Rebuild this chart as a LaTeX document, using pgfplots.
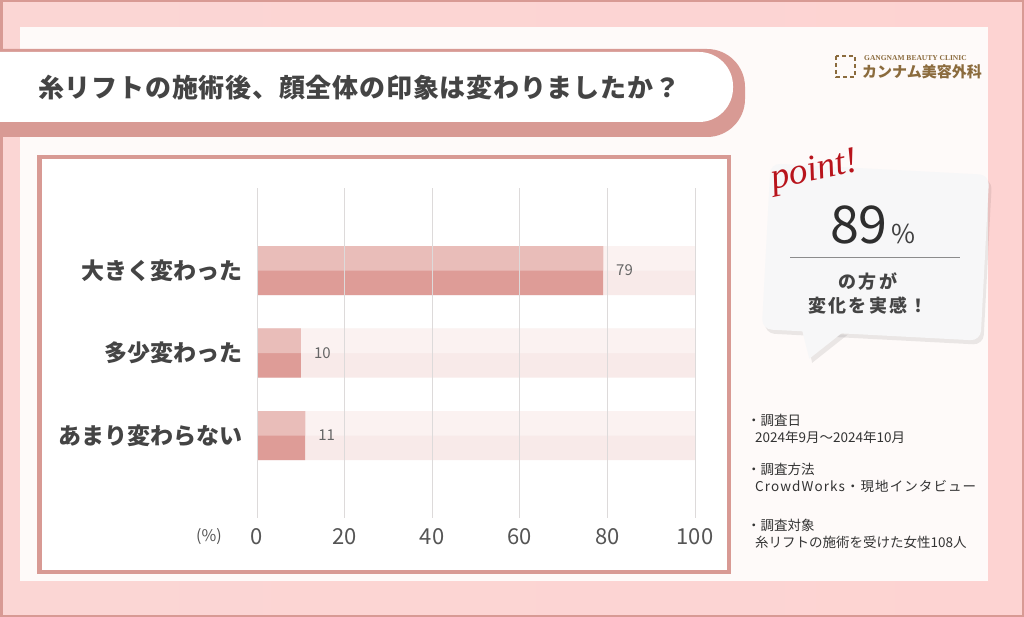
\documentclass[border=0pt]{standalone}
\usepackage{pgfplots}
\pgfplotsset{compat=1.18}
\usepackage{fontspec}
\setmainfont{Noto Sans CJK JP}
\newfontfamily\jp{Noto Sans CJK JP}
\newfontfamily\serif{Liberation Serif}

\definecolor{framec}{HTML}{D89A94}
\definecolor{bgpink}{HTML}{FBD6D4}
\definecolor{card}{HTML}{FEFAF9}
\definecolor{barhi}{HTML}{E9BDB9}
\definecolor{barlo}{HTML}{DE9C97}
\definecolor{trkhi}{HTML}{FBF2F1}
\definecolor{trklo}{HTML}{F8EAE9}
\definecolor{gridc}{HTML}{DDDADA}
\definecolor{txt}{HTML}{444444}
\definecolor{tickc}{HTML}{555555}
\definecolor{valc}{HTML}{666666}
\definecolor{gold}{HTML}{8B6B3D}
\definecolor{pointred}{HTML}{B8141C}
\definecolor{bubble}{HTML}{F7F7F8}

\begin{document}
\begin{tikzpicture}[x=1pt,y=-1pt]
\useasboundingbox (0,0) rectangle (1024,617);
% background and card
\fill[left color=bgpink, right color=bgpink!85!red!60!white] (0,0) rectangle (1024,617);
\draw[framec, line width=2.5pt] (1.25,1.25) rectangle (1022.75,615.75);
\fill[card] (20,27) rectangle (988,581);

% title banner
\fill[framec, rounded corners=38pt] (-40,49) rectangle (745,137);
\fill[white, rounded corners=34pt] (-40,52) rectangle (733,122);
\node[anchor=west, inner sep=0pt, text=txt, font=\fontsize{26}{26}\jp\bfseries\addfontfeature{LetterSpace=3}]
  at (38,88) {糸リフトの施術後、顔全体の印象は変わりましたか？};

% logo
\draw[gold, line width=2.2pt, dash pattern=on 4pt off 3pt] (836,56) rectangle (855,77);
\node[anchor=west, inner sep=0pt, text=gold, font=\fontsize{7.5}{7.5}\serif\bfseries] at (864,58) {GANGNAM BEAUTY CLINIC};
\node[anchor=west, inner sep=0pt, text=gold, font=\fontsize{15}{15}\jp\bfseries] at (862,72) {カンナム美容外科};

% chart frame
\fill[white] (37,155) rectangle (731,574);
\draw[framec, line width=4.5pt] (39.25,157.25) rectangle (728.75,571.75);

\begin{axis}[
  at={(257pt,-518pt)}, anchor=south west,
  scale only axis, width=438pt, height=330pt,
  xmin=0, xmax=100, ymin=-1, ymax=3, y dir=reverse,
  xtick={0,20,...,100}, ytick={0,1,2},
  yticklabels={大きく変わった,多少変わった,あまり変わらない},
  xmajorgrids, major grid style={draw=gridc, line width=0.9pt},
  axis line style={draw=none}, major tick length=0pt, tick style={draw=none},
  axis on top,
  /pgf/number format/assume math mode=true,
  xticklabel style={anchor=center, yshift=-19pt, inner sep=0pt, text=tickc,
    font=\fontsize{22}{22}\jp},
  yticklabel style={anchor=east, xshift=-14pt, inner sep=0pt, text=txt,
    font=\fontsize{23}{23}\jp\bfseries},
  xbar,
]
\addplot[draw=none, fill=trklo, bar width=49pt, bar shift=0pt] coordinates {(100,0) (100,1) (100,2)};
\addplot[draw=none, fill=trkhi, bar width=24.5pt, bar shift=12.25pt] coordinates {(100,0) (100,1) (100,2)};
\addplot[draw=none, fill=barlo, bar width=49pt, bar shift=0pt,
  nodes near coords,
  every node near coord/.append style={anchor=west, inner sep=0pt, xshift=13pt, text=valc,
    font=\fontsize{15}{15}\jp}] coordinates {(79,0) (10,1) (11,2)};
\addplot[draw=none, fill=barhi, bar width=24.5pt, bar shift=12.25pt] coordinates {(79,0) (10,1) (11,2)};
\end{axis}
\node[inner sep=0pt, text=tickc, font=\fontsize{16}{16}\jp] at (209,537) {(\%)};

% point bubble
\begin{scope}[rotate around={-3:(875,252)}]
  \fill[black, opacity=0.08, rounded corners=10pt] (769,173) rectangle (988,339);
  \fill[black, opacity=0.08] (810,336) -- (818,366) -- (852,336) -- cycle;
  \fill[bubble, rounded corners=10pt] (766,169) rectangle (985,335);
  \fill[bubble] (806,333) -- (815,362) -- (848,333) -- cycle;
\end{scope}
\node[rotate=12, inner sep=0pt, text=pointred, font=\fontsize{37}{37}\serif\itshape] at (815,172) {point!};
\node[anchor=base east, inner sep=0pt, text=black!82, font=\fontsize{52}{52}\jp] at (888,244) {89};
\node[anchor=base west, inner sep=0pt, text=black!75, font=\fontsize{26}{26}\jp] at (891,244) {\%};
\draw[black!45, line width=0.8pt] (790,257) -- (960,257);
\node[inner sep=0pt, text=txt, font=\fontsize{18}{18}\jp\bfseries\addfontfeature{LetterSpace=12}] at (868,282) {の方が};
\node[inner sep=0pt, text=txt, font=\fontsize{18}{18}\jp\bfseries\addfontfeature{LetterSpace=12}] at (868,306) {変化を実感！};

% notes
\begin{scope}[every node/.style={anchor=west, inner sep=0pt, text=black!80, font=\fontsize{13.5}{13.5}\jp}]
  \node at (747,420) {・調査日};
  \node at (755,437) {2024年9月～2024年10月};
  \node at (747,469) {・調査方法};
  \node at (755,486) {\addfontfeature{LetterSpace=8}CrowdWorks・現地インタビュー};
  \node at (747,525) {・調査対象};
  \node at (755,542) {糸リフトの施術を受けた女性108人};
\end{scope}
\end{tikzpicture}
\end{document}
